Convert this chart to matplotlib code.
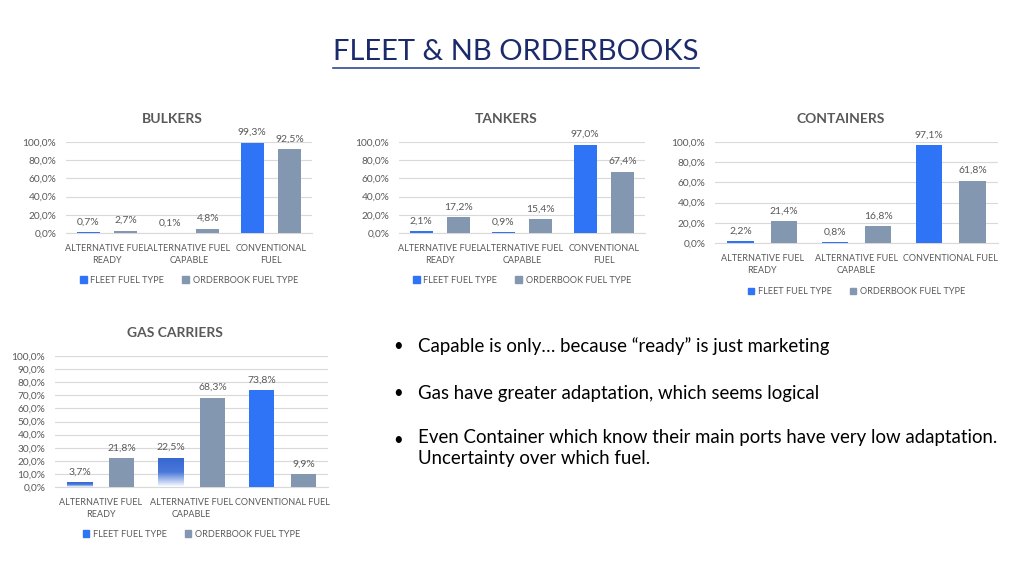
import matplotlib
matplotlib.use("Agg")
import matplotlib.pyplot as plt
import numpy as np
from matplotlib.lines import Line2D
from matplotlib.colors import LinearSegmentedColormap

plt.rcParams['font.family'] = ['Lato', 'DejaVu Sans']

# ---- data ----
SERIES = ["FLEET FUEL TYPE", "ORDERBOOK FUEL TYPE"]
CATS_2LINE = ["ALTERNATIVE FUEL\nREADY", "ALTERNATIVE FUEL\nCAPABLE", "CONVENTIONAL\nFUEL"]
CATS_1LINE = ["ALTERNATIVE FUEL\nREADY", "ALTERNATIVE FUEL\nCAPABLE", "CONVENTIONAL FUEL"]

BULK_FLEET = [0.7, 0.1, 99.3]
BULK_ORDER = [2.7, 4.8, 92.5]
TANK_FLEET = [2.1, 0.9, 97.0]
TANK_ORDER = [17.2, 15.4, 67.4]
CONT_FLEET = [2.2, 0.8, 97.1]
CONT_ORDER = [21.4, 16.8, 61.8]
GAS_FLEET = [3.7, 22.5, 73.8]
GAS_ORDER = [21.8, 68.3, 9.9]

TICKS_20 = [0, 20, 40, 60, 80, 100]
TICKS_10 = [0, 10, 20, 30, 40, 50, 60, 70, 80, 90, 100]

BULLETS = ["Capable is only\u2026 because \u201cready\u201d is just marketing",
           "Gas have greater adaptation, which seems logical",
           "Even Container which know their main ports have very low adaptation.\nUncertainty over which fuel."]

BLUE = "#2F74F7"
GREY = "#8497B0"
TXT = "#595959"
W, H = 1024, 572

fig = plt.figure(figsize=(W / 100, H / 100), dpi=100)


def px_axes(x0, x1, ytop, ybot):
    return fig.add_axes([x0 / W, 1 - ybot / H, (x1 - x0) / W, (ybot - ytop) / H])


def fmt(v):
    return f"{v:.1f}".replace(".", ",") + "%"


def chart(ax, title, cats, fleet, order, ticks, legend_y, title_shift_px, gradient=None):
    x = np.arange(len(cats))
    bw, off = 0.28, 0.23
    b1 = ax.bar(x - off, fleet, bw, color=BLUE, zorder=3)
    b2 = ax.bar(x + off, order, bw, color=GREY, zorder=3)
    if gradient:
        cmap = LinearSegmentedColormap.from_list("g", ["#FFFFFF", "#4A78DA", "#3567D0"])
        for i in gradient:
            p = b1[i]
            p.set_facecolor("none")
            grad = np.linspace(1, 0, 100).reshape(-1, 1)
            im = ax.imshow(grad, extent=[p.get_x(), p.get_x() + p.get_width(), 0, p.get_height()],
                           aspect="auto", cmap=cmap, vmin=0, vmax=1, zorder=3, origin="upper")
            im.set_clip_path(p)
    for bars, vals in ((b1, fleet), (b2, order)):
        for r, v in zip(bars, vals):
            ax.annotate(fmt(v), (r.get_x() + r.get_width() / 2, v), xytext=(0, 4),
                        textcoords="offset points", ha="center", va="bottom",
                        fontsize=7.5, color=TXT, annotation_clip=False)
    ax.set_xlim(-0.5, len(cats) - 0.5)
    ax.set_ylim(0, 100)
    ax.set_yticks(ticks)
    ax.set_yticklabels([fmt(t) for t in ticks])
    ax.set_xticks(x)
    ax.set_xticklabels(cats, linespacing=1.35)
    ax.tick_params(axis="both", length=0, colors=TXT)
    ax.tick_params(axis="y", pad=7, labelsize=7.3)
    ax.tick_params(axis="x", pad=8, labelsize=6.5)
    ax.grid(axis="y", color="#D9D9D9", lw=0.8, zorder=0)
    for s in ("top", "right", "left"):
        ax.spines[s].set_visible(False)
    ax.spines["bottom"].set_color("#D9D9D9")
    wpx = ax.get_position().width * W
    ax.set_title(title, fontsize=10, fontweight="bold", color=TXT, pad=13.5,
                 x=0.5 + title_shift_px / wpx)
    handles = [plt.Rectangle((0, 0), 1, 1, color=BLUE), plt.Rectangle((0, 0), 1, 1, color=GREY)]
    ax.legend(handles, SERIES, loc="center", bbox_to_anchor=(0.5, legend_y), ncol=2,
              frameon=False, fontsize=6.6, handlelength=0.7, handleheight=0.7,
              handletextpad=0.4, columnspacing=2.0, labelcolor=TXT)
    ax.set_axisbelow(True)


ax1 = px_axes(66, 312, 142, 233)
chart(ax1, "BULKERS", CATS_2LINE, BULK_FLEET, BULK_ORDER, TICKS_20, -0.52, -17)
ax2 = px_axes(399, 645, 142, 233)
chart(ax2, "TANKERS", CATS_2LINE, TANK_FLEET, TANK_ORDER, TICKS_20, -0.52, -16)
ax3 = px_axes(715, 998, 142, 243)
chart(ax3, "CONTAINERS", CATS_1LINE, CONT_FLEET, CONT_ORDER, TICKS_20, -0.48, -16)
ax4 = px_axes(55, 328, 356, 487)
chart(ax4, "GAS CARRIERS", CATS_1LINE, GAS_FLEET, GAS_ORDER, TICKS_10, -0.36, -17, gradient=[0, 1])

# title
fig.text(516 / W, 1 - 52 / H, "FLEET & NB ORDERBOOKS", ha="center", va="center",
         fontsize=21, color="#1B2A6B")
fig.add_artist(Line2D([333 / W, 699 / W], [1 - 68 / H, 1 - 68 / H], color="#2E4A9A", lw=1.2))

# bullets
ys = [346, 393, 440]
for y, t in zip(ys, BULLETS):
    fig.text(398 / W, 1 - y / H, "\u2022", ha="center", va="center", fontsize=12, color="black")
    if "\n" in t:
        fig.text(418 / W, 1 - (y - 11) / H, t, ha="left", va="top", fontsize=13.4,
                 color="black", linespacing=1.3)
    else:
        fig.text(418 / W, 1 - y / H, t, ha="left", va="center", fontsize=13.4, color="black")

fig.savefig("out.png", dpi=100, facecolor="white")
